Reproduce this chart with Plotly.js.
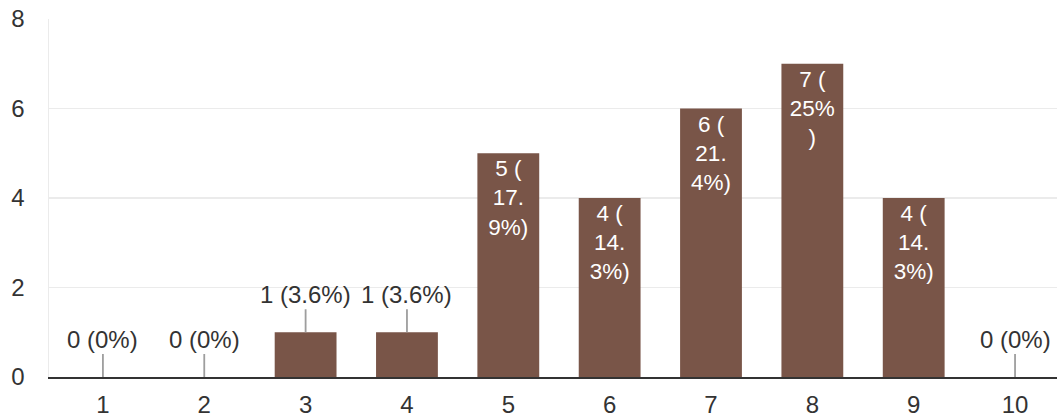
<!DOCTYPE html>
<html>
<head>
<meta charset="utf-8">
<script src="https://cdn.plot.ly/plotly-3.0.1.min.js"></script>
<style>html,body{margin:0;padding:0;background:#fff;}#chart{width:1057px;height:417px;}</style>
</head>
<body>
<div id="chart"></div>
<script>
var categories = [1, 2, 3, 4, 5, 6, 7, 8, 9, 10];
var counts = [0, 0, 1, 1, 5, 4, 6, 7, 4, 0];
var insideLabels = ["", "", "", "", "5 (<br>17.<br>9%)", "4 (<br>14.<br>3%)", "6 (<br>21.<br>4%)", "7 (<br>25%<br>)", "4 (<br>14.<br>3%)", ""];
var outsideLabels = ["0 (0%)", "0 (0%)", "1 (3.6%)", "1 (3.6%)", "", "", "", "", "", "0 (0%)"];
var yTicks = [0, 2, 4, 6, 8];

var FONT = "Liberation Sans, Arial, sans-serif";

var trace = {
  type: "bar",
  x: categories,
  y: counts,
  width: 0.61,
  marker: {color: "#795548", line: {width: 0}},
  text: insideLabels,
  textposition: "inside",
  insidetextanchor: "end",
  textangle: 0,
  textfont: {color: "#ffffff", size: 22.5, family: FONT},
  constraintext: "none",
  hoverinfo: "none",
  cliponaxis: false
};

var annotations = [];
for (var i = 0; i < categories.length; i++) {
  if (outsideLabels[i]) {
    annotations.push({
      x: categories[i], y: counts[i], xref: "x", yref: "y",
      text: outsideLabels[i],
      showarrow: true, arrowhead: 0, arrowwidth: 1.8, arrowcolor: "#9e9e9e",
      ax: 0, ay: -38, standoff: 0,
      font: {color: "#333333", size: 24, family: FONT}
    });
  }
}

var layout = {
  width: 1057, height: 417,
  margin: {l: 49, r: 0, t: 19, b: 40},
  paper_bgcolor: "#ffffff", plot_bgcolor: "#ffffff",
  showlegend: false,
  font: {family: FONT, size: 24, color: "#333333"},
  xaxis: {
    range: [0.468, 10.414],
    tickvals: categories,
    ticktext: categories.map(String),
    showgrid: false, zeroline: false,
    showline: true, linecolor: "#333333", linewidth: 2,
    ticks: "outside", ticklen: 5, tickcolor: "rgba(0,0,0,0)",
    tickfont: {size: 24, color: "#333333", family: FONT},
    fixedrange: true
  },
  yaxis: {
    range: [0, 8],
    tickvals: yTicks,
    ticktext: yTicks.map(String),
    showgrid: true, gridcolor: "#ebebeb", gridwidth: 1.5,
    zeroline: false,
    showline: true, linecolor: "#ebebeb", linewidth: 1.5,
    ticks: "outside", ticklen: 18, tickcolor: "rgba(0,0,0,0)",
    tickfont: {size: 24, color: "#333333", family: FONT},
    fixedrange: true
  },
  annotations: annotations
};

Plotly.newPlot("chart", [trace], layout, {displayModeBar: false, staticPlot: true});
</script>
</body>
</html>
